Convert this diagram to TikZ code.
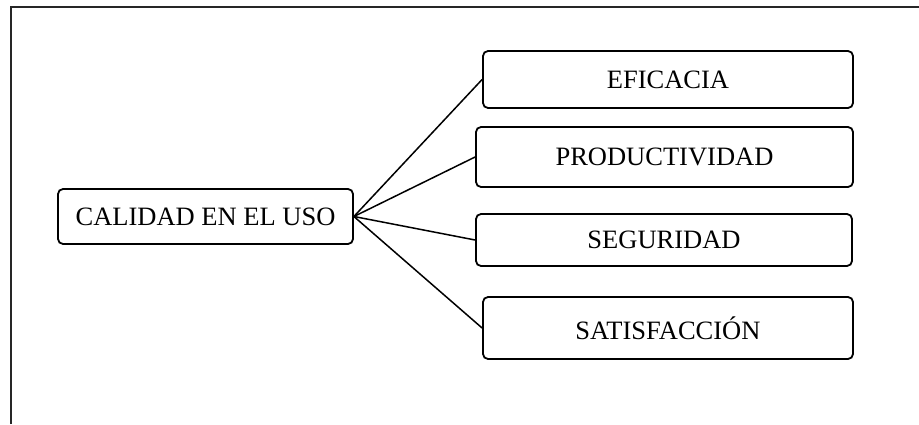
\documentclass[tikz,border=0pt]{standalone}
\usepackage{fontspec}
\setmainfont{Liberation Serif}
\begin{document}
\begin{tikzpicture}[x=1pt,y=1pt,
  box/.style={draw, line width=1.8pt, rounded corners=5pt, inner sep=0pt,
              font=\fontsize{26.5}{30}\selectfont},
  link/.style={line width=1.5pt}]
\useasboundingbox (0,0) rectangle (919,424);
% page frame (top and left edges)
\draw[line width=2.4pt, black!85] (11,0) -- (11,417) -- (919,417);
% root
\node[box, minimum width=295pt, minimum height=55pt] (calidad) at (205.5,207.5) {CALIDAD EN EL USO};
% characteristics
\node[box, minimum width=370pt, minimum height=57pt] (eficacia) at (668,344.5) {EFICACIA};
\node[box, minimum width=377pt, minimum height=60pt] (productividad) at (664.5,267) {PRODUCTIVIDAD};
\node[box, minimum width=376pt, minimum height=52pt] (seguridad) at (664,184) {SEGURIDAD};
\node[box, minimum width=370pt, minimum height=62pt] (satisfaccion) at (668,96) {SATISFACCIÓN};
% connectors
\draw[link] (calidad.east) -- (eficacia.west);
\draw[link] (calidad.east) -- (productividad.west);
\draw[link] (calidad.east) -- (seguridad.west);
\draw[link] (calidad.east) -- (satisfaccion.west);
\end{tikzpicture}
\end{document}
